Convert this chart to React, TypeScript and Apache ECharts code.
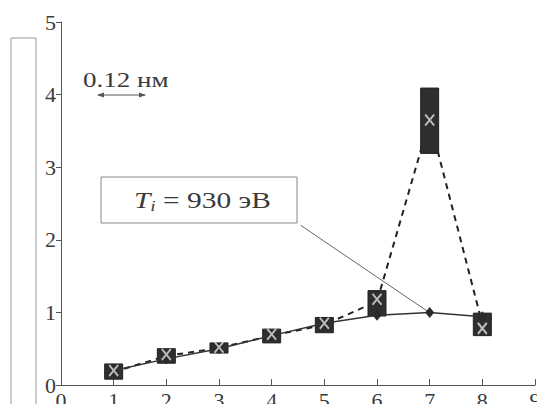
import React, { useEffect, useRef } from "react";
import * as echarts from "echarts";

const xs = [1, 2, 3, 4, 5, 6, 7, 8];
const solidVals = [0.2, 0.36, 0.5, 0.68, 0.85, 0.96, 1.0, 0.94];
const dashedVals = [0.18, 0.4, 0.51, 0.68, 0.83, 1.15, 3.65, 0.84];
const boxLow = [0.08, 0.3, 0.44, 0.58, 0.72, 0.95, 3.19, 0.68];
const boxHigh = [0.29, 0.5, 0.58, 0.77, 0.93, 1.3, 4.09, 0.99];
const crossVals = [0.2, 0.42, 0.52, 0.7, 0.85, 1.18, 3.65, 0.78];
const yTicks = [0, 1, 2, 3, 4, 5];
const xTicks = [0, 1, 2, 3, 4, 5, 6, 7, 8, 9];
const annotationText = "930 эВ";
const scaleText = "0.12 нм";

const FONT = "Liberation Serif";
const INK = "#3a3a3a";

export default function App() {
  const ref = useRef<HTMLDivElement>(null);
  useEffect(() => {
    if (!ref.current) return;
    const chart = echarts.init(ref.current, null, { renderer: "svg" });
    const boxData = xs.map((x, i) => [x, boxLow[i], boxHigh[i]]);
    chart.setOption({
      animation: false,
      backgroundColor: "#ffffff",
      textStyle: { fontFamily: FONT, fontSize: 22, color: INK },
      grid: { left: 61, right: 10, top: 22, bottom: 27 },
      xAxis: {
        type: "value",
        min: 0,
        max: 9,
        interval: 1,
        axisLine: { show: true, lineStyle: { color: "#555", width: 1 } },
        axisTick: { show: true, inside: true, length: 6, lineStyle: { color: "#555" } },
        axisLabel: {
          show: true,
          color: INK,
          fontFamily: FONT,
          fontSize: 22,
          margin: 4,
          formatter: (v: number) => (xTicks.includes(v) ? String(v) : ""),
        },
        splitLine: { show: false },
      },
      yAxis: {
        type: "value",
        min: 0,
        max: 5,
        interval: 1,
        axisLine: { show: true, lineStyle: { color: "#555", width: 1 } },
        axisTick: { show: true, inside: false, length: 5, lineStyle: { color: "#555" } },
        axisLabel: {
          show: true,
          color: INK,
          fontFamily: FONT,
          fontSize: 22,
          margin: 5,
          formatter: (v: number) => (yTicks.includes(v) ? String(v) : ""),
        },
        splitLine: { show: false },
      },
      series: [
        {
          type: "line",
          data: xs.map((x, i) => [x, dashedVals[i]]),
          symbol: "none",
          lineStyle: { color: "#222", width: 2, type: [6, 5] },
          z: 1,
        },
        {
          type: "custom",
          data: boxData,
          renderItem: (params: any, api: any) => {
            const x = api.value(0);
            const top = api.coord([x, api.value(2)]);
            const bot = api.coord([x, api.value(1)]);
            return {
              type: "rect",
              shape: { x: top[0] - 9, y: top[1], width: 18, height: bot[1] - top[1] },
              style: { fill: "#2e2e2e", stroke: "#222", lineWidth: 1 },
            };
          },
          z: 2,
        },
        {
          type: "line",
          data: xs.map((x, i) => [x, solidVals[i]]),
          symbol: "diamond",
          symbolSize: [9, 11],
          itemStyle: { color: "#2a2a2a" },
          lineStyle: { color: "#333", width: 1.5 },
          z: 3,
          markLine: {
            silent: true,
            symbol: "none",
            label: { show: false },
            lineStyle: { color: "#666", width: 1, type: "solid" },
            data: [[{ coord: [4.55, 2.2] }, { coord: [6.95, 1.02] }]],
          },
        },
        {
          type: "scatter",
          data: xs.map((x, i) => [x, crossVals[i]]),
          symbol: "path://M0,0L10,12M10,0L0,12",
          symbolSize: [9, 11],
          itemStyle: { color: "none", borderColor: "#e0e0e0", borderWidth: 2 },
          z: 4,
        },
      ],
      graphic: [
        {
          type: "rect",
          shape: { x: 11, y: 38, width: 25, height: 368 },
          style: { fill: "none", stroke: "#999", lineWidth: 1 },
        },
        {
          type: "rect",
          shape: { x: 101, y: 177, width: 196, height: 46 },
          style: { fill: "#fff", stroke: "#888", lineWidth: 1 },
          z: 10,
        },
        {
          type: "text",
          x: 134,
          y: 200,
          scaleX: 1.28,
          z: 11,
          style: {
            text: "{it|T}{sub|i}{n| = " + annotationText + "}",
            verticalAlign: "middle",
            rich: {
              it: { fontFamily: FONT, fontStyle: "italic", fontSize: 23, fill: INK },
              sub: { fontFamily: FONT, fontStyle: "italic", fontSize: 15, fill: INK, padding: [12, 0, 0, 0] },
              n: { fontFamily: FONT, fontSize: 23, fill: INK },
            },
          },
        },
        {
          type: "text",
          x: 83,
          y: 79,
          scaleX: 1.23,
          style: {
            text: scaleText,
            fontFamily: FONT,
            fontSize: 22,
            fill: INK,
            verticalAlign: "middle",
          },
        },
        {
          type: "line",
          shape: { x1: 98, y1: 95, x2: 145, y2: 95 },
          style: { stroke: "#555", lineWidth: 1 },
        },
        {
          type: "polygon",
          shape: { points: [[97, 95], [104, 92.5], [104, 97.5]] },
          style: { fill: "#555" },
        },
        {
          type: "polygon",
          shape: { points: [[146, 95], [139, 92.5], [139, 97.5]] },
          style: { fill: "#555" },
        },
      ],
    });
    return () => chart.dispose();
  }, []);
  return <div ref={ref} style={{ width: 545, height: 412, margin: -8 }} />;
}
